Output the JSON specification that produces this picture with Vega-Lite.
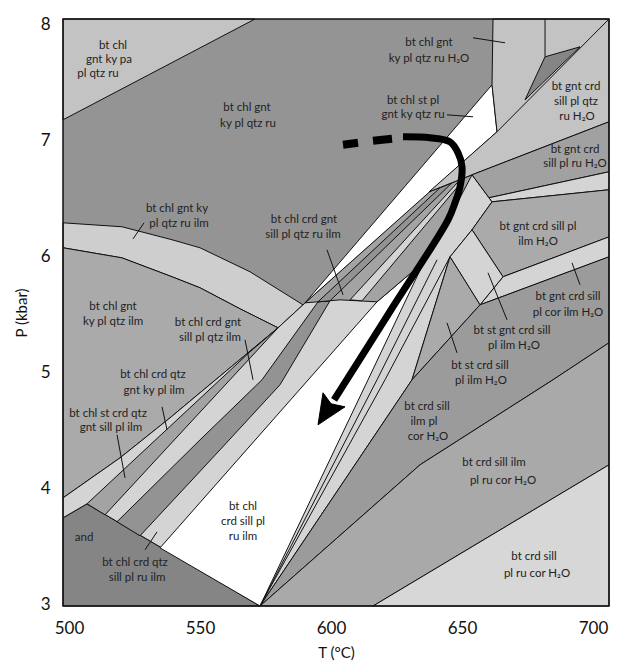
{
"$schema":"https://vega.github.io/schema/vega-lite/v6.json",
"width":546,"height":587,"autosize":"none",
"padding":{"left":63,"top":19,"right":10,"bottom":66},
"background":"white",
"view":{"fill":"#949494","stroke":null},
"config":{"axis":{"domain":false,"ticks":false,"grid":false,"labelFont":"Lato","labelFontSize":17,"labelColor":"#111","titleFont":"Lato","titleFontSize":15,"titleFontWeight":"normal","titleColor":"#111"}},
"datasets":{
"poly":[
{"id":1,"k":1,"T":497.7,"P":8.05,"s":"lt"},{"id":1,"k":2,"T":570.99,"P":8.05,"s":"lt"},{"id":1,"k":3,"T":497.7,"P":7.181,"s":"lt"},
{"id":2,"k":1,"T":497.7,"P":6.293,"s":"arc"},{"id":2,"k":2,"T":520.23,"P":6.259,"s":"arc"},{"id":2,"k":3,"T":539.31,"P":6.147,"s":"arc"},{"id":2,"k":4,"T":550,"P":6.078,"s":"arc"},{"id":2,"k":5,"T":569.08,"P":5.871,"s":"arc"},{"id":2,"k":6,"T":589.31,"P":5.586,"s":"arc"},{"id":2,"k":7,"T":579.77,"P":5.388,"s":"arc"},{"id":2,"k":8,"T":565.27,"P":5.552,"s":"arc"},{"id":2,"k":9,"T":550,"P":5.733,"s":"arc"},{"id":2,"k":10,"T":539.31,"P":5.828,"s":"arc"},{"id":2,"k":11,"T":520.23,"P":5.991,"s":"arc"},{"id":2,"k":12,"T":497.7,"P":6.078,"s":"arc"},
{"id":3,"k":1,"T":497.7,"P":6.078,"s":"mid"},{"id":3,"k":2,"T":520.23,"P":5.991,"s":"mid"},{"id":3,"k":3,"T":539.31,"P":5.828,"s":"mid"},{"id":3,"k":4,"T":550,"P":5.733,"s":"mid"},{"id":3,"k":5,"T":565.27,"P":5.552,"s":"mid"},{"id":3,"k":6,"T":579.77,"P":5.388,"s":"mid"},{"id":3,"k":7,"T":550,"P":4.828,"s":"mid"},{"id":3,"k":8,"T":538.55,"P":4.612,"s":"mid"},{"id":3,"k":9,"T":519.47,"P":4.267,"s":"mid"},{"id":3,"k":10,"T":497.7,"P":3.922,"s":"mid"},
{"id":4,"k":1,"T":497.7,"P":3.75,"s":"dk"},{"id":4,"k":2,"T":506.87,"P":3.871,"s":"dk"},{"id":4,"k":3,"T":572.9,"P":2.99,"s":"dk"},{"id":4,"k":4,"T":497.7,"P":2.99,"s":"dk"},
{"id":5,"k":1,"T":497.7,"P":3.922,"s":"lt2"},{"id":5,"k":2,"T":519.47,"P":4.267,"s":"lt2"},{"id":5,"k":3,"T":538.55,"P":4.612,"s":"lt2"},{"id":5,"k":4,"T":550,"P":4.828,"s":"lt2"},{"id":5,"k":5,"T":579.77,"P":5.388,"s":"lt2"},{"id":5,"k":6,"T":589.31,"P":5.586,"s":"lt2"},{"id":5,"k":7,"T":590.08,"P":5.603,"s":"lt2"},{"id":5,"k":8,"T":637.4,"P":6.56,"s":"lt2"},{"id":5,"k":9,"T":653.82,"P":6.707,"s":"lt2"},{"id":5,"k":10,"T":661.45,"P":6.474,"s":"lt2"},{"id":5,"k":11,"T":653.82,"P":6.233,"s":"lt2"},{"id":5,"k":12,"T":645.42,"P":6.0,"s":"lt2"},{"id":5,"k":13,"T":630.92,"P":4.94,"s":"lt2"},{"id":5,"k":14,"T":572.9,"P":2.99,"s":"lt2"},{"id":5,"k":15,"T":506.87,"P":3.871,"s":"lt2"},{"id":5,"k":16,"T":497.7,"P":3.75,"s":"lt2"},
{"id":6,"k":1,"T":506.87,"P":3.871,"s":"mid2"},{"id":6,"k":2,"T":513.74,"P":3.776,"s":"mid2"},{"id":6,"k":3,"T":579.77,"P":5.388,"s":"mid2"},{"id":6,"k":4,"T":569.08,"P":5.181,"s":"mid2"},
{"id":7,"k":1,"T":518.32,"P":3.716,"s":"dk2"},{"id":7,"k":2,"T":527.1,"P":3.595,"s":"dk2"},{"id":7,"k":3,"T":557.63,"P":4.336,"s":"dk2"},{"id":7,"k":4,"T":580.53,"P":4.897,"s":"dk2"},{"id":7,"k":5,"T":599.62,"P":5.621,"s":"dk2"},{"id":7,"k":6,"T":595.04,"P":5.612,"s":"dk2"},{"id":7,"k":7,"T":573.66,"P":4.94,"s":"dk2"},{"id":7,"k":8,"T":550,"P":4.422,"s":"dk2"},
{"id":8,"k":1,"T":534.73,"P":3.491,"s":"white"},{"id":8,"k":2,"T":617.56,"P":5.612,"s":"white"},{"id":8,"k":3,"T":635.5,"P":5.957,"s":"white"},{"id":8,"k":4,"T":614.12,"P":4.94,"s":"white"},{"id":8,"k":5,"T":572.9,"P":2.99,"s":"white"},
{"id":9,"k":1,"T":572.9,"P":2.99,"s":"lt2"},{"id":9,"k":2,"T":630.92,"P":4.94,"s":"lt2"},{"id":9,"k":3,"T":645.42,"P":6.0,"s":"lt2"},{"id":9,"k":4,"T":620.61,"P":4.94,"s":"lt2"},
{"id":10,"k":1,"T":590.08,"P":5.603,"s":"mid2"},{"id":10,"k":2,"T":637.4,"P":6.56,"s":"mid2"},{"id":10,"k":3,"T":653.82,"P":6.707,"s":"mid2"},{"id":10,"k":4,"T":645.42,"P":6.345,"s":"mid2"},{"id":10,"k":5,"T":635.5,"P":5.957,"s":"mid2"},{"id":10,"k":6,"T":617.56,"P":5.612,"s":"mid2"},{"id":10,"k":7,"T":603.44,"P":5.629,"s":"mid2"},
{"id":11,"k":1,"T":595.04,"P":5.612,"s":"dk2"},{"id":11,"k":2,"T":641.6,"P":6.595,"s":"dk2"},{"id":11,"k":3,"T":646.18,"P":6.638,"s":"dk2"},{"id":11,"k":4,"T":599.62,"P":5.621,"s":"dk2"},
{"id":12,"k":1,"T":607.25,"P":5.629,"s":"lt2"},{"id":12,"k":2,"T":649.24,"P":6.664,"s":"lt2"},{"id":12,"k":3,"T":651.53,"P":6.69,"s":"lt2"},{"id":12,"k":4,"T":611.83,"P":5.621,"s":"lt2"},
{"id":13,"k":1,"T":661.45,"P":7.483,"s":"white"},{"id":13,"k":2,"T":663.36,"P":7.078,"s":"white"},{"id":13,"k":3,"T":590.08,"P":5.603,"s":"white"},
{"id":14,"k":1,"T":661.83,"P":8.05,"s":"lt"},{"id":14,"k":2,"T":706.1,"P":8.05,"s":"lt"},{"id":14,"k":3,"T":706.1,"P":7.164,"s":"lt"},{"id":14,"k":4,"T":653.82,"P":6.707,"s":"lt"},{"id":14,"k":5,"T":637.4,"P":6.56,"s":"lt"},{"id":14,"k":6,"T":663.36,"P":7.078,"s":"lt"},{"id":14,"k":7,"T":661.45,"P":7.483,"s":"lt"},
{"id":15,"k":1,"T":681.68,"P":7.724,"s":"dk"},{"id":15,"k":2,"T":695.04,"P":7.81,"s":"dk"},{"id":15,"k":3,"T":674.05,"P":7.353,"s":"dk"},
{"id":16,"k":1,"T":653.82,"P":6.707,"s":"mid3"},{"id":16,"k":2,"T":706.1,"P":7.164,"s":"mid3"},{"id":16,"k":3,"T":706.1,"P":6.733,"s":"mid3"},{"id":16,"k":4,"T":660.31,"P":6.509,"s":"mid3"},
{"id":17,"k":1,"T":660.31,"P":6.509,"s":"lt2"},{"id":17,"k":2,"T":706.1,"P":6.733,"s":"lt2"},{"id":17,"k":3,"T":706.1,"P":6.578,"s":"lt2"},{"id":17,"k":4,"T":661.45,"P":6.474,"s":"lt2"},
{"id":18,"k":1,"T":661.45,"P":6.474,"s":"mid"},{"id":18,"k":2,"T":706.1,"P":6.578,"s":"mid"},{"id":18,"k":3,"T":706.1,"P":6.172,"s":"mid"},{"id":18,"k":4,"T":665.65,"P":5.828,"s":"mid"},{"id":18,"k":5,"T":653.82,"P":6.233,"s":"mid"},
{"id":19,"k":1,"T":665.65,"P":5.828,"s":"lt2"},{"id":19,"k":2,"T":706.1,"P":6.172,"s":"lt2"},{"id":19,"k":3,"T":706.1,"P":6.0,"s":"lt2"},{"id":19,"k":4,"T":656.87,"P":5.586,"s":"lt2"},
{"id":20,"k":1,"T":653.82,"P":6.233,"s":"lt2"},{"id":20,"k":2,"T":665.65,"P":5.828,"s":"lt2"},{"id":20,"k":3,"T":656.87,"P":5.586,"s":"lt2"},{"id":20,"k":4,"T":645.42,"P":6.0,"s":"lt2"},
{"id":21,"k":1,"T":645.42,"P":6.0,"s":"mid"},{"id":21,"k":2,"T":656.87,"P":5.586,"s":"mid"},{"id":21,"k":3,"T":630.92,"P":4.94,"s":"mid"},
{"id":22,"k":1,"T":572.9,"P":2.99,"s":"rb3"},{"id":22,"k":2,"T":630.92,"P":4.94,"s":"rb3"},{"id":22,"k":3,"T":656.87,"P":5.586,"s":"rb3"},{"id":22,"k":4,"T":706.1,"P":6.0,"s":"rb3"},{"id":22,"k":5,"T":706.1,"P":5.259,"s":"rb3"},{"id":22,"k":6,"T":684.73,"P":4.94,"s":"rb3"},{"id":22,"k":7,"T":633.97,"P":4.207,"s":"rb3"},
{"id":23,"k":1,"T":572.9,"P":2.99,"s":"rb2"},{"id":23,"k":2,"T":633.97,"P":4.207,"s":"rb2"},{"id":23,"k":3,"T":684.73,"P":4.94,"s":"rb2"},{"id":23,"k":4,"T":706.1,"P":5.259,"s":"rb2"},{"id":23,"k":5,"T":706.1,"P":4.207,"s":"rb2"},{"id":23,"k":6,"T":616.03,"P":2.99,"s":"rb2"},
{"id":24,"k":1,"T":616.03,"P":2.99,"s":"rb1"},{"id":24,"k":2,"T":706.1,"P":4.207,"s":"rb1"},{"id":24,"k":3,"T":706.1,"P":2.99,"s":"rb1"}
],
"lines":[
{"id":1,"k":1,"T":706.1,"P":8.05},{"id":1,"k":2,"T":663.36,"P":7.078},
{"id":2,"k":1,"T":681.68,"P":8.05},{"id":2,"k":2,"T":681.68,"P":7.724},
{"id":3,"k":1,"T":572.9,"P":2.99},{"id":3,"k":2,"T":617.56,"P":4.94},{"id":3,"k":3,"T":640.46,"P":5.974},
{"id":4,"k":1,"T":654.2,"P":7.888},{"id":4,"k":2,"T":666.41,"P":7.845},
{"id":5,"k":1,"T":644.27,"P":7.224},{"id":5,"k":2,"T":654.2,"P":7.207},
{"id":6,"k":1,"T":524.43,"P":6.155},{"id":6,"k":2,"T":528.63,"P":6.293},
{"id":7,"k":1,"T":598.47,"P":6.06},{"id":7,"k":2,"T":604.58,"P":5.672},
{"id":8,"k":1,"T":567.18,"P":5.284},{"id":8,"k":2,"T":570.23,"P":4.94},
{"id":9,"k":1,"T":535.5,"P":4.707},{"id":9,"k":2,"T":537.4,"P":4.509},
{"id":10,"k":1,"T":518.32,"P":4.466},{"id":10,"k":2,"T":521.37,"P":4.095},
{"id":11,"k":1,"T":529.01,"P":3.474},{"id":11,"k":2,"T":533.59,"P":3.629},
{"id":12,"k":1,"T":691.98,"P":5.948},{"id":12,"k":2,"T":695.04,"P":5.759},
{"id":13,"k":1,"T":659.92,"P":5.862},{"id":13,"k":2,"T":667.18,"P":5.457},
{"id":14,"k":1,"T":644.27,"P":5.431},{"id":14,"k":2,"T":648.09,"P":5.172}
],
"dashes":[
{"id":1,"T":604.58,"P":6.966},{"id":1,"T":610.31,"P":6.983},
{"id":2,"T":616.03,"P":7.0},{"id":2,"T":623.28,"P":7.017}
],
"path":[
{"k":1,"T":627.48,"P":7.034},{"k":2,"T":637.79,"P":7.026},{"k":3,"T":645.42,"P":6.991},{"k":4,"T":648.47,"P":6.897},{"k":5,"T":650.0,"P":6.776},{"k":6,"T":649.24,"P":6.603},{"k":7,"T":647.33,"P":6.466},{"k":8,"T":644.66,"P":6.319},{"k":9,"T":622.9,"P":5.543},{"k":10,"T":601.15,"P":4.767}
],
"head":[
{"k":1,"T":595.04,"P":4.552},{"k":2,"T":605.34,"P":4.707},{"k":3,"T":600.0,"P":4.733},{"k":4,"T":596.95,"P":4.828}
],
"labels":[
{"T":516.79,"P":7.819,"t":"bt chl"},{"T":515.27,"P":7.698,"t":"gnt ky pa"},{"T":511.07,"P":7.578,"t":"pl qtz ru"},
{"T":637.4,"P":7.845,"t":"bt chl gnt"},{"T":637.4,"P":7.707,"t":"ky pl qtz ru H₂O"},
{"T":567.94,"P":7.284,"t":"bt chl gnt"},{"T":568.32,"P":7.147,"t":"ky pl qtz ru"},
{"T":631.3,"P":7.345,"t":"bt chl st pl"},{"T":631.3,"P":7.224,"t":"gnt ky qtz ru"},
{"T":693.51,"P":7.466,"t":"bt gnt crd"},{"T":693.51,"P":7.336,"t":"sill pl qtz"},{"T":693.89,"P":7.207,"t":"ru H₂O"},
{"T":693.13,"P":6.922,"t":"bt gnt crd"},{"T":693.13,"P":6.802,"t":"sill pl ru H₂O"},
{"T":541.22,"P":6.414,"t":"bt chl gnt ky"},{"T":541.98,"P":6.284,"t":"pl qtz ru ilm"},
{"T":589.69,"P":6.319,"t":"bt chl crd gnt"},{"T":589.31,"P":6.19,"t":"sill pl qtz ru ilm"},
{"T":516.79,"P":5.569,"t":"bt chl gnt"},{"T":516.79,"P":5.44,"t":"ky pl qtz ilm"},
{"T":553.05,"P":5.431,"t":"bt chl crd gnt"},{"T":553.82,"P":5.302,"t":"sill pl qtz ilm"},
{"T":532.06,"P":4.983,"t":"bt chl crd qtz"},{"T":532.44,"P":4.845,"t":"gnt ky pl ilm"},
{"T":514.89,"P":4.647,"t":"bt chl st crd qtz"},{"T":516.03,"P":4.526,"t":"gnt sill pl ilm"},
{"T":505.73,"P":3.578,"t":"and"},
{"T":525.19,"P":3.362,"t":"bt chl crd qtz"},{"T":525.95,"P":3.233,"t":"sill pl ru ilm"},
{"T":566.41,"P":3.845,"t":"bt chl"},{"T":566.41,"P":3.716,"t":"crd sill pl"},{"T":566.41,"P":3.586,"t":"ru ilm"},
{"T":636.64,"P":4.707,"t":"bt crd sill"},{"T":635.5,"P":4.578,"t":"ilm  pl"},{"T":637.02,"P":4.448,"t":"cor H₂O"},
{"T":662.21,"P":4.224,"t":"bt crd sill ilm"},{"T":665.65,"P":4.069,"t":"pl ru cor H₂O"},
{"T":677.48,"P":3.414,"t":"bt crd sill"},{"T":678.63,"P":3.267,"t":"pl ru cor H₂O"},
{"T":679.01,"P":6.259,"t":"bt gnt crd sill pl"},{"T":679.01,"P":6.129,"t":"ilm H₂O"},
{"T":690.46,"P":5.655,"t":"bt gnt crd sill"},{"T":690.46,"P":5.517,"t":"pl cor ilm H₂O"},
{"T":669.08,"P":5.362,"t":"bt st gnt crd sill"},{"T":669.85,"P":5.233,"t":"pl ilm H₂O"},
{"T":656.87,"P":5.06,"t":"bt st crd sill"},{"T":657.25,"P":4.931,"t":"pl ilm H₂O"}
],
"frame":[{"T":497.7,"P":2.99,"T1":706.1,"P1":8.05}]
},
"encoding":{
"x":{"field":"T","type":"quantitative","scale":{"domain":[497.7,706.1],"nice":false,"zero":false},"axis":{"title":"T (°C)","values":[500,550,600,650,700],"labelPadding":14,"titlePadding":9}},
"y":{"field":"P","type":"quantitative","scale":{"domain":[2.99,8.05],"nice":false,"zero":false},"axis":{"title":"P (kbar)","values":[3,4,5,6,7,8],"labelPadding":13,"titlePadding":11}}
},
"layer":[
{"data":{"name":"poly"},"mark":{"type":"line","interpolate":"linear-closed","stroke":"#111","strokeWidth":1,"strokeJoin":"miter"},
 "encoding":{"detail":{"field":"id","type":"nominal"},"order":{"field":"k","type":"quantitative"},
 "fill":{"field":"s","type":"nominal","legend":null,"scale":{"domain":["lt","arc","mid","dk","lt2","mid2","dk2","white","mid3","rb3","rb2","rb1"],"range":["#c3c3c3","#cecece","#aaaaaa","#858585","#d4d4d4","#a3a3a3","#939393","#ffffff","#a1a1a1","#9b9b9b","#a9a9a9","#d7d7d7"]}}}},
{"data":{"name":"lines"},"mark":{"type":"line","stroke":"#111","strokeWidth":1},
 "encoding":{"detail":{"field":"id","type":"nominal"},"order":{"field":"k","type":"quantitative"}}},
{"data":{"name":"dashes"},"mark":{"type":"line","stroke":"#000","strokeWidth":8,"strokeCap":"butt"},
 "encoding":{"detail":{"field":"id","type":"nominal"}}},
{"data":{"name":"path"},"mark":{"type":"line","stroke":"#000","strokeWidth":7,"interpolate":"catmull-rom","strokeCap":"butt"},
 "encoding":{"order":{"field":"k","type":"quantitative"}}},
{"data":{"name":"head"},"mark":{"type":"line","interpolate":"linear-closed","stroke":"#000","strokeWidth":1,"fill":"#000"},
 "encoding":{"order":{"field":"k","type":"quantitative"}}},
{"data":{"name":"labels"},"mark":{"type":"text","font":"Lato","fontSize":11.5,"color":"#222","align":"center","baseline":"middle"},
 "encoding":{"text":{"field":"t"}}},
{"data":{"name":"frame"},"mark":{"type":"rect","fill":null,"fillOpacity":0,"stroke":"#111","strokeWidth":1.5},
 "encoding":{"x2":{"field":"T1"},"y2":{"field":"P1"}}}
]
}
